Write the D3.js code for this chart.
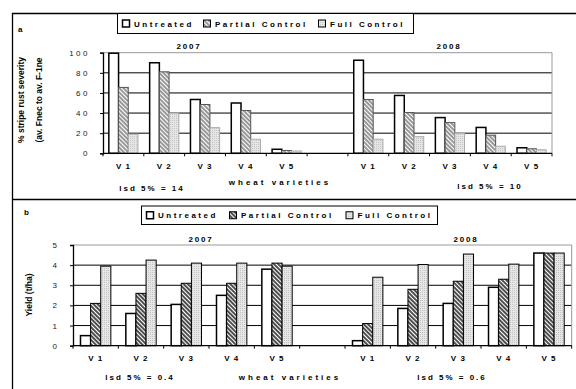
<!DOCTYPE html>
<html>
<head>
<meta charset="utf-8">
<script src="https://cdn.jsdelivr.net/npm/d3@7"></script>
<style>
  body { margin: 0; background: #fff; }
  svg { display: block; font-family: "Liberation Sans", Arial, sans-serif; }
</style>
</head>
<body>
<svg id="chart" width="576" height="389"></svg>
<script>
// data
var varieties = ["V 1", "V 2", "V 3", "V 4", "V 5"];
var years = ["2007", "2008"];
var treatments = ["Untreated", "Partial Control", "Full Control"];

// panel a : % stripe rust severity
var rust2007Untreated = [99.5, 90, 53.5, 50, 4];
var rust2007Partial   = [65.5, 81, 48.5, 42.5, 2.8];
var rust2007Full      = [19, 40, 25.5, 14, 2.3];
var rust2008Untreated = [92.5, 57.5, 35.5, 25.7, 5.5];
var rust2008Partial   = [53.5, 40.5, 30.5, 18, 4.5];
var rust2008Full      = [14, 16.5, 20, 7, 3.5];
var rustTicks = [0, 20, 40, 60, 80, 100];

// panel b : yield t/ha
var yield2007Untreated = [0.5, 1.6, 2.05, 2.5, 3.8];
var yield2007Partial   = [2.1, 2.6, 3.1, 3.1, 4.1];
var yield2007Full      = [3.95, 4.25, 4.1, 4.1, 3.95];
var yield2008Untreated = [0.25, 1.85, 2.1, 2.9, 4.6];
var yield2008Partial   = [1.1, 2.8, 3.2, 3.3, 4.6];
var yield2008Full      = [3.4, 4.03, 4.55, 4.05, 4.6];
var yieldTicks = [0, 1, 2, 3, 4, 5];

var svg = d3.select("#chart");
var defs = svg.append("defs");

// hatch patterns
function hatch(id, color, w){
  var p = defs.append("pattern").attr("id", id)
    .attr("patternUnits", "userSpaceOnUse")
    .attr("width", 3).attr("height", 3)
    .attr("patternTransform", "rotate(-45)");
  p.append("rect").attr("width", 3).attr("height", 3).attr("fill", "#fff");
  p.append("line").attr("x1", 1).attr("y1", 0).attr("x2", 1).attr("y2", 3)
    .attr("stroke", color).attr("stroke-width", w);
}
hatch("hatchA", "#444", 1.1);
hatch("hatchB", "#222", 1.6);
var dots = defs.append("pattern").attr("id", "dots")
  .attr("patternUnits", "userSpaceOnUse").attr("width", 2).attr("height", 2);
dots.append("rect").attr("width", 2).attr("height", 2).attr("fill", "#e6e6e6");
dots.append("rect").attr("width", 1).attr("height", 1).attr("fill", "#c4c4c4");

// outer frames
svg.append("path")
  .attr("d", "M12.5,389 V13.5 H576 M12.5,199.5 H576")
  .attr("fill", "none").attr("stroke", "#000").attr("stroke-width", 1.3);

var cats = [];
years.forEach(function(yr, i){
  varieties.forEach(function(v){ cats.push(yr + "|" + v); });
  if(i == 0) cats.push("gap");
});

function drawPanel(cfg){
  var g = svg.append("g");
  var x = d3.scaleBand().domain(cats).range([cfg.x0, cfg.x1]).padding(0);
  var y = d3.scaleLinear().domain([0, cfg.ticks[cfg.ticks.length-1]]).range([cfg.y0, cfg.y1]);
  var s = d3.scaleBand().domain(treatments).range([0, x.bandwidth()])
            .paddingInner(0).paddingOuter(cfg.outer);

  // gridlines
  g.selectAll("line.grid").data(cfg.ticks.slice(1, -1)).enter().append("line")
    .attr("x1", cfg.x0).attr("x2", cfg.x1)
    .attr("y1", function(d){ return y(d); }).attr("y2", function(d){ return y(d); })
    .attr("stroke", "#000").attr("stroke-width", 1);
  // plot area border (gray top/right)
  g.append("path")
    .attr("d", "M" + cfg.x0 + "," + y(cfg.ticks[cfg.ticks.length-1]) + " H" + cfg.x1 + " V" + cfg.y0)
    .attr("fill", "none").attr("stroke", "#999").attr("stroke-width", 1);

  var rows = [];
  years.forEach(function(yr){
    treatments.forEach(function(t, ti){
      cfg.data[yr][ti].forEach(function(v, vi){
        rows.push({key: yr + "|" + varieties[vi], t: t, ti: ti, v: v});
      });
    });
  });

  g.selectAll("rect.bar").data(rows).enter().append("rect")
    .attr("x", function(d){ return x(d.key) + s(d.t); })
    .attr("width", s.bandwidth())
    .attr("y", function(d){ return y(d.v); })
    .attr("height", function(d){ return y(0) - y(d.v); })
    .attr("fill", function(d){ return d.ti == 0 ? "#fff" : d.ti == 1 ? "url(#" + cfg.hatch + ")" : "url(#dots)"; })
    .attr("stroke", function(d){ return d.ti == 0 ? "#000" : cfg.edge[d.ti]; })
    .attr("stroke-width", function(d){ return d.ti == 0 ? 1.5 : 1; });

  // y axis
  var yAxis = g.append("g").attr("transform", "translate(" + cfg.x0 + ",0)")
    .call(d3.axisLeft(y).tickValues(cfg.ticks).tickFormat(d3.format("d"))
      .tickSize(3).tickPadding(cfg.tickPad));
  yAxis.select(".domain").attr("stroke", "#000").attr("stroke-width", 1.3);
  yAxis.selectAll("text").attr("font-size", 8).attr("letter-spacing", cfg.ySpacing)
    .attr("font-family", "Liberation Sans, Arial, sans-serif").attr("fill", "#222");

  // x axis line and ticks at band boundaries
  g.append("line").attr("x1", cfg.x0).attr("x2", cfg.x1)
    .attr("y1", y(0)).attr("y2", y(0)).attr("stroke", "#000").attr("stroke-width", 1.3);
  var bounds = cats.map(function(c){ return x(c); }).concat([cfg.x1]);
  g.selectAll("line.xt").data(bounds).enter().append("line")
    .attr("x1", function(d){ return d; }).attr("x2", function(d){ return d; })
    .attr("y1", y(0)).attr("y2", y(0) + 3).attr("stroke", "#000");
  g.selectAll("text.xl").data(cats.filter(function(c){ return c != "gap"; })).enter().append("text")
    .attr("x", function(d){ return x(d) + x.bandwidth() / 2; })
    .attr("y", y(0) + cfg.xLabelDy)
    .attr("text-anchor", "middle").attr("font-size", 8).attr("font-weight", "bold")
    .attr("letter-spacing", 1)
    .text(function(d){ return d.split("|")[1]; });

  // year titles
  years.forEach(function(yr, i){
    g.append("text").attr("x", cfg.yearX[i]).attr("y", cfg.yearY)
      .attr("text-anchor", "middle").attr("font-size", 8).attr("font-weight", "bold")
      .attr("letter-spacing", 1.8).text(yr);
  });

  // bottom notes
  cfg.notes.forEach(function(n){
    g.append("text").attr("x", n[0]).attr("y", n[1]).attr("text-anchor", "middle")
      .attr("font-size", 8).attr("font-weight", "bold").attr("letter-spacing", n[3])
      .text(n[2]);
  });

  // y title
  cfg.yTitle.forEach(function(t){
    g.append("text").attr("transform", "translate(" + t[0] + "," + t[1] + ") rotate(-90)")
      .attr("text-anchor", "middle").attr("font-size", 8.5).attr("font-weight", "bold")
      .text(t[2]);
  });

  // panel letter
  g.append("text").attr("x", cfg.letter[0]).attr("y", cfg.letter[1])
    .attr("font-size", 8).attr("font-weight", "bold").text(cfg.letter[2]);

  // legend
  var L = cfg.legend;
  g.append("rect").attr("x", L.x).attr("y", L.y).attr("width", L.w).attr("height", L.h)
    .attr("fill", "#fff").attr("stroke", "#000").attr("stroke-width", 1);
  treatments.forEach(function(t, ti){
    g.append("rect").attr("x", L.items[ti]).attr("y", L.y + L.h / 2 - 3.5)
      .attr("width", 7).attr("height", 7)
      .attr("fill", ti == 0 ? "#fff" : ti == 1 ? "url(#" + cfg.hatch + ")" : "url(#dots)")
      .attr("stroke", "#000").attr("stroke-width", ti == 0 ? 1.5 : 1);
    g.append("text").attr("x", L.items[ti] + 11.5).attr("y", L.y + L.h / 2 + 3)
      .attr("font-size", 8).attr("font-weight", "bold").attr("letter-spacing", 2.5)
      .text(t);
  });
}

drawPanel({
  x0: 103, x1: 552, y0: 153.3, y1: 52.7, outer: 0.6,
  ticks: rustTicks, tickPad: 10, ySpacing: 2.5, xLabelDy: 16,
  hatch: "hatchA", edge: [null, "#555", "#aaa"],
  data: {"2007": [rust2007Untreated, rust2007Partial, rust2007Full],
         "2008": [rust2008Untreated, rust2008Partial, rust2008Full]},
  yearX: [189, 449], yearY: 49,
  notes: [[152, 191, "lsd 5% = 14", 2], [280, 185, "wheat varieties", 3], [490, 189, "lsd 5% = 10", 2]],
  yTitle: [[24, 100, "% stripe rust severity"], [42, 100, "(av. Fnec to av. F-1ne"]],
  letter: [18, 32, "a"],
  legend: {x: 117.5, y: 13.5, w: 296, h: 20, items: [122.5, 203.5, 318.5]}
});

drawPanel({
  x0: 73, x1: 571.7, y0: 345.7, y1: 245, outer: 0.74,
  ticks: yieldTicks, tickPad: 13, ySpacing: 0, xLabelDy: 15,
  hatch: "hatchB", edge: [null, "#000", "#000"],
  data: {"2007": [yield2007Untreated, yield2007Partial, yield2007Full],
         "2008": [yield2008Untreated, yield2008Partial, yield2008Full]},
  yearX: [201, 466], yearY: 242,
  notes: [[140, 380, "lsd 5% = 0.4", 2], [290, 380, "wheat varieties", 3], [452, 380, "lsd 5% = 0.6", 2]],
  yTitle: [[32, 295, "Yield (t/ha)"]],
  letter: [24, 215, "b"],
  legend: {x: 141.5, y: 206, w: 296, h: 18.5, items: [146.5, 229.5, 346]}
});
</script>
</body>
</html>
